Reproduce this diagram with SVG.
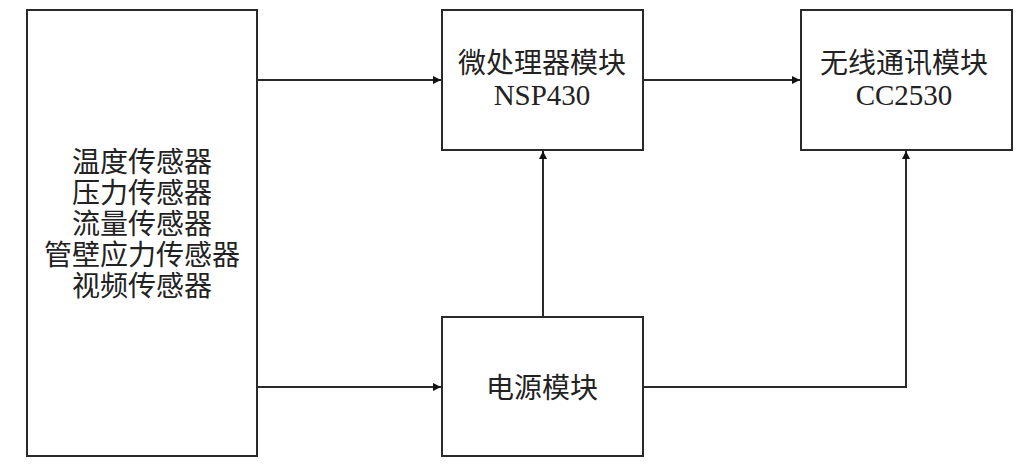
<svg xmlns="http://www.w3.org/2000/svg" width="1018" height="472" viewBox="0 0 1018 472">
<style>
.box{fill:#fff;stroke:#2a2a2a;stroke-width:2}
.cn{font-family:"Noto Sans CJK SC","Noto Sans CJK JP",sans-serif;font-size:28px;fill:#222;text-anchor:middle}
.en{font-family:"Liberation Serif",serif;font-size:29px;fill:#222;text-anchor:middle}
.ln{fill:none;stroke:#2a2a2a;stroke-width:2}
</style>
<defs>
<marker id="ah" viewBox="0 0 10 10" refX="10" refY="5" markerWidth="10" markerHeight="8" markerUnits="userSpaceOnUse" orient="auto">
<path d="M0,0 L10,5 L0,10 Z" fill="#111"/>
</marker>
</defs>
<rect width="1018" height="472" fill="#fff"/>
<g id="sensors">
<rect class="box" x="27" y="10" width="230" height="446"/>
<text class="cn" x="142" y="172"><tspan x="142">温度传感器</tspan><tspan x="142" dy="31">压力传感器</tspan><tspan x="142" dy="31">流量传感器</tspan><tspan x="142" dy="31">管壁应力传感器</tspan><tspan x="142" dy="31">视频传感器</tspan></text>
</g>
<g id="mcu">
<rect class="box" x="442" y="10" width="201" height="140"/>
<text class="cn" x="542" y="73">微处理器模块</text>
<text class="en" x="542" y="105">NSP430</text>
</g>
<g id="wireless">
<rect class="box" x="801" y="10" width="211" height="140"/>
<text class="cn" x="904" y="73">无线通讯模块</text>
<text class="en" x="904" y="105">CC2530</text>
</g>
<g id="power">
<rect class="box" x="442" y="317" width="201" height="139"/>
<text class="cn" x="542" y="398">电源模块</text>
</g>
<g id="connectors">
<path class="ln" d="M257,80 H441" marker-end="url(#ah)"/>
<path class="ln" d="M643,80 H800" marker-end="url(#ah)"/>
<path class="ln" d="M257,387 H441" marker-end="url(#ah)"/>
<path class="ln" d="M543,317 V151" marker-end="url(#ah)"/>
<path class="ln" d="M643,387 H906 V151" marker-end="url(#ah)"/>
</g>
</svg>
